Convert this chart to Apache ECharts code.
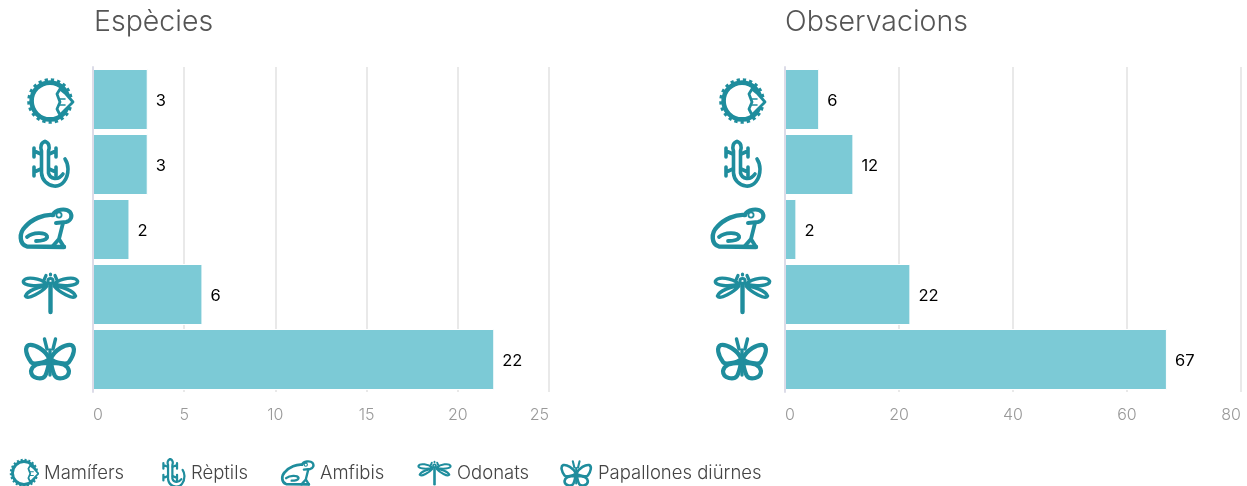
<!DOCTYPE html>
<html><head><meta charset="utf-8">
<style>html,body{margin:0;padding:0;background:#fff}#c{width:1247px;height:486px}</style>
<script src="https://cdn.jsdelivr.net/npm/echarts@6/dist/echarts.min.js"></script>
</head><body><div id="c"></div>
<script>
const categories = ['Mamífers','Rèptils','Amfibis','Odonats','Papallones diürnes'];
const especies = [3,3,2,6,22];
const observacions = [6,12,2,22,67];
const panelTitles = ['Espècies','Observacions'];
const FONT = 'Inter, "Open Sans", sans-serif';
const TEAL = '#1f8d9d', BAR = '#7ccad6';

const shapes = [
 `<circle cx="50" cy="100" r="18.4" stroke-width="4.6"/>
  <circle cx="50" cy="100" r="21" stroke-width="3.6" stroke-linecap="butt" stroke-dasharray="3.2 3"/>
  <path d="M60 88L66 93L73 101L66 108L60 114L57 108L60 101L57 93Z" fill="#fff" stroke-width="2.8"/>
  <path d="M60 98H65M60 104H65" stroke-width="1.6"/>`,
 `<path stroke-width="3.6" d="M45 140.5C41 141.5 40 146 41.5 150L41.5 172C42 179 47 184 54 185C62 186 68 178 68 168C68 164 67 161 65 158"/>
  <path stroke-width="3.6" d="M45 140.5C49 141.5 50 146 48.5 150L48.5 172C50 178 58 180 63 173"/>
  <path stroke-width="3.6" d="M41 153L34 150M34 147V156M49 153L56 150M56 147V156M41 168L34 171M34 166V175M49 168L56 171M56 166V175"/>`,
 `<path stroke-width="4.4" d="M53 214C44 213 32 218 25 226C19 232 19 243 27 245.5L64 246"/>
  <path stroke-width="4" d="M53 214C55 208 66 207 70 211C73 215 71 220 66 221L56 222"/>
  <path stroke-width="3.8" d="M63 222L59 238L64 246M59 238L52 246"/>
  <path stroke-width="3.8" d="M27 236C33 231 45 231 47 235C48 239 41 240 36 240"/>
  <circle cx="59" cy="214" r="2.6" stroke-width="1.8"/>`,
 `<path stroke-width="4.4" d="M50.5 283V311"/>
  <circle cx="50.5" cy="280" r="2.6" stroke-width="3"/>
  <path stroke-width="3.2" d="M44 279L46 274.5M57 279L55 274.5M50.5 273V274"/>
  <g stroke-width="3.5"><path d="M47 283C40 277 26 275 23.5 280C22 285 38 286 47 283"/>
  <path d="M47 285C40 285 27 290 25.5 295C28 299 42 291 47 285"/>
  <path d="M54 283C61 277 75 275 77.5 280C79 285 63 286 54 283"/>
  <path d="M54 285C61 285 74 290 75.5 295C73 299 59 291 54 285"/></g>`,
 `<g stroke-width="4.2"><path d="M49 357C45 349 35 343 29 344C24 346 26 354 31 361C33 364 45 362 49 358"/>
  <path d="M51 357C55 349 65 343 71 344C76 346 74 354 69 361C67 364 55 362 51 358"/>
  <path d="M47 362C38 362 32 364 31 370C31 378 42 379 45 375C47 372 48 367 49 362"/>
  <path d="M53 362C62 362 68 364 69 370C69 378 58 379 55 375C53 372 52 367 51 362"/></g>
  <path stroke-width="3.4" d="M50 349V374M47 348L44.5 338M53 348L55.5 338"/>`
];
// windows: axis icon view (64x52 around each band), and tight view for the legend
const axisViews = [[16,72.5],[16,137.5],[16,202.5],[16,267.5],[16,332.5]];
const tightViews = [[26,76,48,48,30,30],[29,138,41,50,26,31],[17,206,57,43,35,27],[21,270,59,44,35,27],[24,335,53,44,33,27]];
function uri(i,vb,w,h){
  const s=`<svg xmlns="http://www.w3.org/2000/svg" width="${w}" height="${h}" viewBox="${vb}"><g fill="none" stroke="${TEAL}" stroke-linecap="round" stroke-linejoin="round">${shapes[i]}</g></svg>`;
  return 'data:image/svg+xml;charset=utf-8,'+encodeURIComponent(s);
}
const rich={};
categories.forEach((c,i)=>{const v=axisViews[i];
  rich['i'+i]={width:64,height:52,backgroundColor:{image:uri(i,`${v[0]} ${v[1]} 64 52`,128,104)}};});
const legendLeft=[9,160,280,417,560];
const legends=categories.map((c,i)=>{const t=tightViews[i];
  return {left:legendLeft[i],top:473-t[5]/2,padding:0,itemWidth:t[4],itemHeight:t[5],selectedMode:false,
   data:[{name:c,icon:'image://'+uri(i,`${t[0]} ${t[1]} ${t[2]} ${t[3]}`,t[4]*2,t[5]*2)}],
   textStyle:{fontFamily:FONT,fontSize:18.5,fontWeight:300,color:'#444'}};});

const grids=[{left:93,top:67,width:456,height:325},{left:785,top:67,width:456,height:325}];
const xMax=[25,80], xStep=[5,20];
const xAxes=[0,1].map(g=>({type:'value',gridIndex:g,min:0,max:xMax[g],interval:xStep[g],
  axisLine:{show:false},axisTick:{show:false},
  splitLine:{show:true,lineStyle:{color:'#e9e9e9',width:2}},
  axisLabel:{margin:15,alignMinLabel:'left',alignMaxLabel:'right',color:'#999',fontFamily:FONT,fontSize:16,fontWeight:300}}));
const yAxes=[0,1].map(g=>({type:'category',gridIndex:g,inverse:true,data:categories,z:5,
  axisLine:{show:true,lineStyle:{color:'#dcdce8',width:2}},axisTick:{show:false},splitLine:{show:false},
  axisLabel:{margin:13,formatter:(v,idx)=>`{i${idx}|}`,rich}}));
const series=[];
[especies,observacions].forEach((vals,g)=>{
  categories.forEach((c,i)=>{
    series.push({type:'bar',name:c,xAxisIndex:g,yAxisIndex:g,stack:'p'+g,barWidth:61,
      data:vals.map((v,j)=>j===i?v:null),
      itemStyle:{color:BAR,borderColor:'#fff',borderWidth:1},
      label:{show:true,position:'right',distance:8,offset:[0,1.5],color:'#000',fontFamily:FONT,fontSize:16.5,fontWeight:400},
      emphasis:{disabled:true},animation:false});
  });
});
const chart=echarts.init(document.getElementById('c'));
chart.setOption({
  animation:false,backgroundColor:'#fff',
  title:panelTitles.map((t,i)=>({text:t,left:i?785:94,top:8,padding:0,
    textStyle:{fontFamily:FONT,fontSize:28.5,fontWeight:300,color:'#555'}})),
  legend:legends,grid:grids,xAxis:xAxes,yAxis:yAxes,series
});
</script></body></html>
